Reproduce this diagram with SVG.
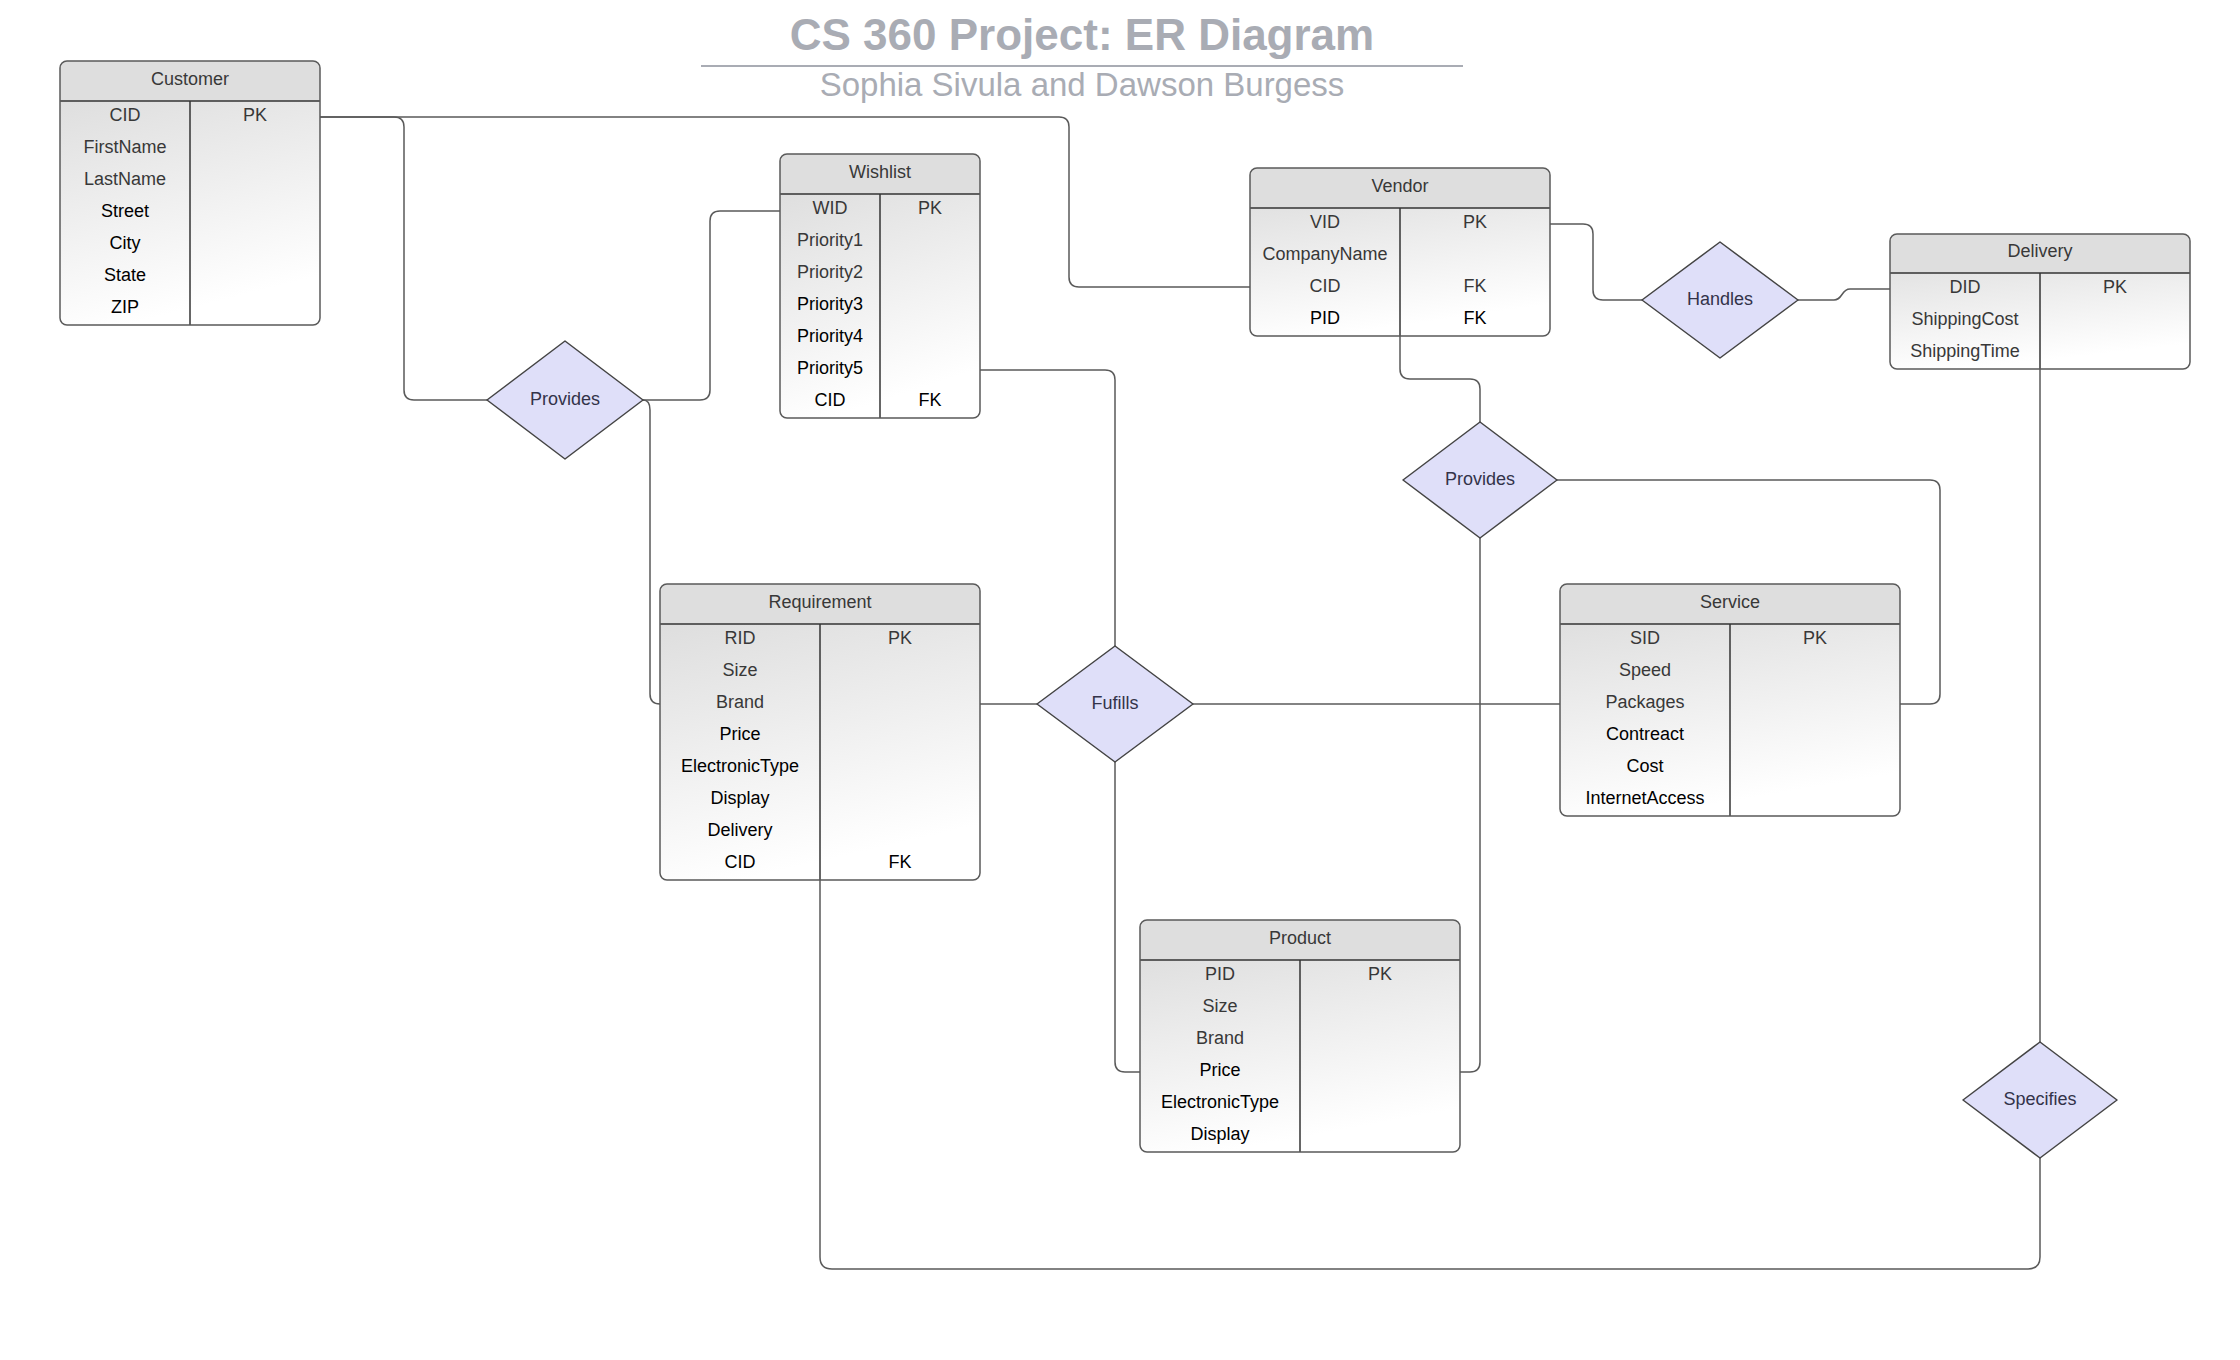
<svg xmlns="http://www.w3.org/2000/svg" width="2240" height="1360" viewBox="0 0 2240 1360">
<defs>
<linearGradient id="body" x1="0" y1="0" x2="0.25" y2="1">
<stop offset="0" stop-color="#d9d9d9"/>
<stop offset="1" stop-color="#ffffff"/>
</linearGradient>
</defs>
<style>
text{font-family:"Liberation Sans",Arial,sans-serif;font-size:18px;text-anchor:middle}
.title{font-size:44px;font-weight:bold;fill:#a9acb4}
.sub{font-size:33px;fill:#a9acb4}
.g{fill:#383838}
.k{fill:#000000}
.bg{fill:url(#body);stroke:none}
.hdr{fill:#dedede;stroke:none}
.ol{fill:none;stroke:#5a5a5a;stroke-width:1.5}
.ln{stroke:#333;stroke-width:1.5;fill:none}
.dia{fill:#dfdff9;stroke:#444;stroke-width:1.5;stroke-linejoin:round}
.dt{fill:#33334a}
.con path{fill:none;stroke:#5a5a5a;stroke-width:1.5}
</style>
<rect width="2240" height="1360" fill="#ffffff"/>

<g id="title">
<text class="title" x="1082" y="50">CS 360 Project: ER Diagram</text>
<line x1="701" y1="66" x2="1463" y2="66" stroke="#a9acb4" stroke-width="2"/>
<text class="sub" x="1082" y="96">Sophia Sivula and Dawson Burgess</text>
</g>

<g class="con" id="connectors">
<path d="M320,117 H394 Q404,117 404,127 V390 Q404,400 414,400 H487"/>
<path d="M320,117 H1059 Q1069,117 1069,127 V277 Q1069,287 1079,287 H1250"/>
<path d="M643,400 H700 Q710,400 710,390 V221 Q710,211 720,211 H780"/>
<path d="M643,400 Q650,400 650,410 V694 Q650,704 660,704"/>
<path d="M980,370 H1105 Q1115,370 1115,380 V647"/>
<path d="M980,704 H1037"/>
<path d="M1193,704 H1560"/>
<path d="M1115,762 V1062 Q1115,1072 1125,1072 H1140"/>
<path d="M1460,1072 H1470 Q1480,1072 1480,1062 V538"/>
<path d="M1400,336 V369 Q1400,379 1410,379 H1470 Q1480,379 1480,389 V422"/>
<path d="M1557,480 H1930 Q1940,480 1940,490 V694 Q1940,704 1930,704 H1900"/>
<path d="M1550,224 H1583 Q1593,224 1593,234 V290 Q1593,300 1603,300 H1642"/>
<path d="M1798,300 H1834 C1843,300 1841,289 1850,289 H1890"/>
<path d="M2040,369 V1042"/>
<path d="M2040,1158 V1257 Q2040,1269 2028,1269 H832 Q820,1269 820,1257 V880"/>
</g>

<g id="customer">
<rect class="bg" x="60" y="61" width="260" height="264" rx="7"/>
<path class="hdr" d="M60,101 V68 Q60,61 67,61 H313 Q320,61 320,68 V101 Z"/>
<line class="ln" x1="60" y1="101" x2="320" y2="101"/>
<line class="ln" x1="190" y1="101" x2="190" y2="325"/>
<rect class="ol" x="60" y="61" width="260" height="264" rx="7"/>
<text class="g" x="190" y="85">Customer</text>
<text class="g" x="125" y="121">CID</text><text class="g" x="255" y="121">PK</text>
<text class="g" x="125" y="153">FirstName</text>
<text class="g" x="125" y="185">LastName</text>
<text class="k" x="125" y="217">Street</text>
<text class="k" x="125" y="249">City</text>
<text class="k" x="125" y="281">State</text>
<text class="k" x="125" y="313">ZIP</text>
</g>

<g id="wishlist">
<rect class="bg" x="780" y="154" width="200" height="264" rx="7"/>
<path class="hdr" d="M780,194 V161 Q780,154 787,154 H973 Q980,154 980,161 V194 Z"/>
<line class="ln" x1="780" y1="194" x2="980" y2="194"/>
<line class="ln" x1="880" y1="194" x2="880" y2="418"/>
<rect class="ol" x="780" y="154" width="200" height="264" rx="7"/>
<text class="g" x="880" y="178">Wishlist</text>
<text class="g" x="830" y="214">WID</text><text class="g" x="930" y="214">PK</text>
<text class="g" x="830" y="246">Priority1</text>
<text class="g" x="830" y="278">Priority2</text>
<text class="k" x="830" y="310">Priority3</text>
<text class="k" x="830" y="342">Priority4</text>
<text class="k" x="830" y="374">Priority5</text>
<text class="k" x="830" y="406">CID</text><text class="k" x="930" y="406">FK</text>
</g>

<g id="vendor">
<rect class="bg" x="1250" y="168" width="300" height="168" rx="7"/>
<path class="hdr" d="M1250,208 V175 Q1250,168 1257,168 H1543 Q1550,168 1550,175 V208 Z"/>
<line class="ln" x1="1250" y1="208" x2="1550" y2="208"/>
<line class="ln" x1="1400" y1="208" x2="1400" y2="336"/>
<rect class="ol" x="1250" y="168" width="300" height="168" rx="7"/>
<text class="g" x="1400" y="192">Vendor</text>
<text class="g" x="1325" y="228">VID</text><text class="g" x="1475" y="228">PK</text>
<text class="g" x="1325" y="260">CompanyName</text>
<text class="g" x="1325" y="292">CID</text><text class="g" x="1475" y="292">FK</text>
<text class="k" x="1325" y="324">PID</text><text class="k" x="1475" y="324">FK</text>
</g>

<g id="delivery">
<rect class="bg" x="1890" y="234" width="300" height="135" rx="7"/>
<path class="hdr" d="M1890,273 V241 Q1890,234 1897,234 H2183 Q2190,234 2190,241 V273 Z"/>
<line class="ln" x1="1890" y1="273" x2="2190" y2="273"/>
<line class="ln" x1="2040" y1="273" x2="2040" y2="369"/>
<rect class="ol" x="1890" y="234" width="300" height="135" rx="7"/>
<text class="g" x="2040" y="257">Delivery</text>
<text class="g" x="1965" y="293">DID</text><text class="g" x="2115" y="293">PK</text>
<text class="g" x="1965" y="325">ShippingCost</text>
<text class="g" x="1965" y="357">ShippingTime</text>
</g>

<g id="requirement">
<rect class="bg" x="660" y="584" width="320" height="296" rx="7"/>
<path class="hdr" d="M660,624 V591 Q660,584 667,584 H973 Q980,584 980,591 V624 Z"/>
<line class="ln" x1="660" y1="624" x2="980" y2="624"/>
<line class="ln" x1="820" y1="624" x2="820" y2="880"/>
<rect class="ol" x="660" y="584" width="320" height="296" rx="7"/>
<text class="g" x="820" y="608">Requirement</text>
<text class="g" x="740" y="644">RID</text><text class="g" x="900" y="644">PK</text>
<text class="g" x="740" y="676">Size</text>
<text class="g" x="740" y="708">Brand</text>
<text class="k" x="740" y="740">Price</text>
<text class="k" x="740" y="772">ElectronicType</text>
<text class="k" x="740" y="804">Display</text>
<text class="k" x="740" y="836">Delivery</text>
<text class="k" x="740" y="868">CID</text><text class="k" x="900" y="868">FK</text>
</g>

<g id="service">
<rect class="bg" x="1560" y="584" width="340" height="232" rx="7"/>
<path class="hdr" d="M1560,624 V591 Q1560,584 1567,584 H1893 Q1900,584 1900,591 V624 Z"/>
<line class="ln" x1="1560" y1="624" x2="1900" y2="624"/>
<line class="ln" x1="1730" y1="624" x2="1730" y2="816"/>
<rect class="ol" x="1560" y="584" width="340" height="232" rx="7"/>
<text class="g" x="1730" y="608">Service</text>
<text class="g" x="1645" y="644">SID</text><text class="g" x="1815" y="644">PK</text>
<text class="g" x="1645" y="676">Speed</text>
<text class="g" x="1645" y="708">Packages</text>
<text class="k" x="1645" y="740">Contreact</text>
<text class="k" x="1645" y="772">Cost</text>
<text class="k" x="1645" y="804">InternetAccess</text>
</g>

<g id="product">
<rect class="bg" x="1140" y="920" width="320" height="232" rx="7"/>
<path class="hdr" d="M1140,960 V927 Q1140,920 1147,920 H1453 Q1460,920 1460,927 V960 Z"/>
<line class="ln" x1="1140" y1="960" x2="1460" y2="960"/>
<line class="ln" x1="1300" y1="960" x2="1300" y2="1152"/>
<rect class="ol" x="1140" y="920" width="320" height="232" rx="7"/>
<text class="g" x="1300" y="944">Product</text>
<text class="g" x="1220" y="980">PID</text><text class="g" x="1380" y="980">PK</text>
<text class="g" x="1220" y="1012">Size</text>
<text class="g" x="1220" y="1044">Brand</text>
<text class="k" x="1220" y="1076">Price</text>
<text class="k" x="1220" y="1108">ElectronicType</text>
<text class="k" x="1220" y="1140">Display</text>
</g>

<g id="provides-customer">
<polygon class="dia" points="565,341 643,400 565,459 487,400"/>
<text class="dt" x="565" y="405">Provides</text>
</g>
<g id="provides-vendor">
<polygon class="dia" points="1480,422 1557,480 1480,538 1403,480"/>
<text class="dt" x="1480" y="485">Provides</text>
</g>
<g id="handles">
<polygon class="dia" points="1720,242 1798,300 1720,358 1642,300"/>
<text class="dt" x="1720" y="305">Handles</text>
</g>
<g id="fufills">
<polygon class="dia" points="1115,646 1193,704 1115,762 1037,704"/>
<text class="dt" x="1115" y="709">Fufills</text>
</g>
<g id="specifies">
<polygon class="dia" points="2040,1042 2117,1100 2040,1158 1963,1100"/>
<text class="dt" x="2040" y="1105">Specifies</text>
</g>
</svg>
